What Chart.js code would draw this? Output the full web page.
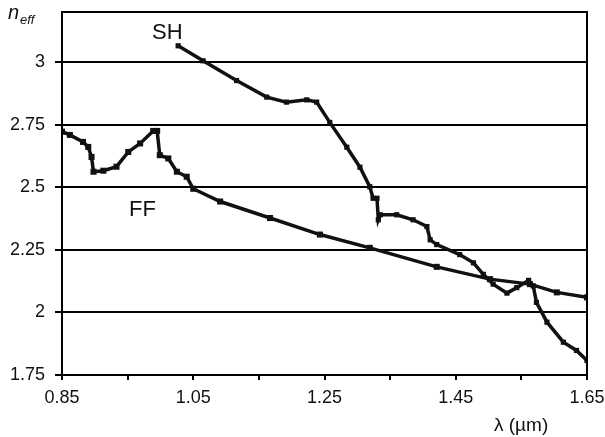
<!DOCTYPE html>
<html>
<head>
<meta charset="utf-8">
<script src="https://cdn.jsdelivr.net/npm/chart.js@4.4.1/dist/chart.umd.min.js"></script>
<style>
  body { margin: 0; background: #fff; }
  #wrap { width: 605px; height: 437px; }
</style>
</head>
<body>
<div id="wrap"><canvas id="neff" width="605" height="437"></canvas></div>
<script>
// wavelength (um) and effective index
const ffLambda = [0.85, 0.862, 0.882, 0.890, 0.895, 0.898, 0.913, 0.933, 0.951, 0.969, 0.989, 0.995, 0.999, 1.012, 1.025, 1.040, 1.050, 1.091, 1.167, 1.243, 1.319, 1.421, 1.502, 1.563, 1.604, 1.65];
const ffNeff   = [2.722, 2.709, 2.681, 2.661, 2.621, 2.562, 2.566, 2.582, 2.641, 2.675, 2.725, 2.725, 2.628, 2.615, 2.562, 2.542, 2.494, 2.443, 2.377, 2.311, 2.258, 2.182, 2.133, 2.113, 2.080, 2.060];

const shLambda = [1.027, 1.065, 1.116, 1.162, 1.192, 1.223, 1.238, 1.258, 1.284, 1.304, 1.319, 1.324, 1.330, 1.332, 1.335, 1.360, 1.385, 1.406, 1.411, 1.421, 1.456, 1.477, 1.492, 1.507, 1.528, 1.543, 1.561, 1.568, 1.573, 1.589, 1.614, 1.634, 1.65];
const shNeff   = [3.065, 3.005, 2.926, 2.860, 2.840, 2.849, 2.840, 2.759, 2.660, 2.580, 2.502, 2.456, 2.456, 2.370, 2.390, 2.390, 2.370, 2.343, 2.290, 2.271, 2.231, 2.198, 2.152, 2.113, 2.077, 2.099, 2.128, 2.106, 2.040, 1.961, 1.881, 1.848, 1.808];

const yTicks = [1.75, 2, 2.25, 2.5, 2.75, 3];
const xTicks = [0.85, 0.95, 1.05, 1.15, 1.25, 1.35, 1.45, 1.55, 1.65];
const xLabels = ['0.85', '1.05', '1.25', '1.45', '1.65'];

const toXY = (xs, ys) => xs.map((x, i) => ({x: x, y: ys[i]}));

const fnt = 'Liberation Sans, Arial, sans-serif';

const extras = {
  id: 'extras',
  afterDraw(chart) {
    const c = chart.ctx, a = chart.chartArea;
    c.save();
    c.strokeStyle = '#000';
    c.lineWidth = 2;
    c.strokeRect(a.left, a.top, a.right - a.left, a.bottom - a.top);
    c.fillStyle = '#111';
    c.textBaseline = 'alphabetic';
    c.font = '22px ' + fnt;
    c.fillText('SH', 152, 39);
    c.fillText('FF', 129, 216);
    c.font = '19px ' + fnt;
    c.fillText('λ (µm)', 494, 431);
    c.font = 'italic 20px ' + fnt;
    c.fillText('n', 8, 19);
    c.font = 'italic 13px ' + fnt;
    c.fillText('eff', 20, 24);
    c.restore();
  }
};

new Chart(document.getElementById('neff'), {
  type: 'line',
  data: {
    datasets: [
      {
        label: 'FF',
        data: toXY(ffLambda, ffNeff),
        borderColor: '#111',
        borderWidth: 3.5,
        pointStyle: 'rect',
        pointRadius: 1.8,
        pointBackgroundColor: '#111',
        pointBorderColor: '#111',
        tension: 0
      },
      {
        label: 'SH',
        data: toXY(shLambda, shNeff),
        borderColor: '#111',
        borderWidth: 3.5,
        pointStyle: 'rect',
        pointRadius: 1.2,
        pointBackgroundColor: '#111',
        pointBorderColor: '#111',
        tension: 0
      }
    ]
  },
  options: {
    responsive: false,
    animation: false,
    layout: { padding: { top: 12, right: 18, left: 0, bottom: 0 } },
    plugins: { legend: { display: false }, tooltip: { enabled: false } },
    scales: {
      x: {
        type: 'linear',
        min: 0.85,
        max: 1.65,
        afterBuildTicks: (s) => { s.ticks = xTicks.map(v => ({value: v})); },
        afterFit: (s) => { s.height = 62; s.paddingLeft = 0; s.paddingRight = 0; },
        grid: { drawOnChartArea: false, color: '#000', lineWidth: 2, tickLength: 5 },
        border: { color: '#000', width: 2 },
        ticks: {
          color: '#111',
          font: { family: fnt, size: 18 },
          padding: 7,
          maxRotation: 0,
          autoSkip: false,
          callback: (v, i) => (i % 2 === 0 ? xLabels[i / 2] : '')
        }
      },
      y: {
        min: 1.75,
        max: 3.2,
        afterBuildTicks: (s) => { s.ticks = yTicks.map(v => ({value: v})); },
        afterFit: (s) => { s.width = 62; s.paddingTop = 0; s.paddingBottom = 0; },
        grid: { color: '#000', lineWidth: 2, tickLength: 7 },
        border: { color: '#000', width: 2 },
        ticks: {
          color: '#111',
          font: { family: fnt, size: 18 },
          padding: 10,
          callback: (v) => String(v)
        }
      }
    }
  },
  plugins: [extras]
});
</script>
</body>
</html>
